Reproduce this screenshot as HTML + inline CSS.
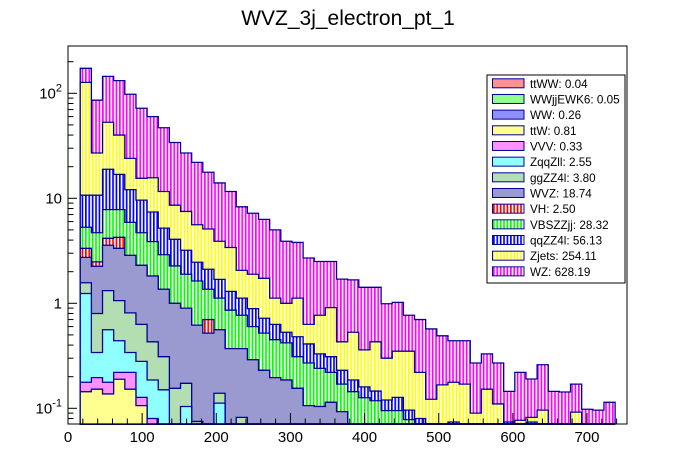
<!DOCTYPE html>
<html><head><meta charset="utf-8"><style>
html,body{margin:0;padding:0;background:#fff;}
svg{display:block;font-family:"Liberation Sans",Arial,sans-serif;}
</style></head><body>
<svg id="c" width="696" height="472" viewBox="0 0 696 472">
<defs>
<pattern id="pWZ" patternUnits="userSpaceOnUse" width="3.4" height="4"><rect width="3.4" height="4" fill="#fff"/><rect width="1.7" height="4" fill="#ff00ff"/></pattern>
<pattern id="pZj" patternUnits="userSpaceOnUse" width="3.4" height="4"><rect width="3.4" height="4" fill="#fff"/><rect width="1.7" height="4" fill="#ffff00"/></pattern>
<pattern id="pQQ" patternUnits="userSpaceOnUse" width="3.4" height="4"><rect width="3.4" height="4" fill="#fff"/><rect width="1.7" height="4" fill="#0000ff"/></pattern>
<pattern id="pVBS" patternUnits="userSpaceOnUse" width="3.4" height="4"><rect width="3.4" height="4" fill="#fff"/><rect width="1.7" height="4" fill="#00ff00"/></pattern>
<pattern id="pVH" patternUnits="userSpaceOnUse" width="3.4" height="4"><rect width="3.4" height="4" fill="#fff"/><rect width="1.7" height="4" fill="#ff0000"/></pattern>
</defs>
<text x="348" y="25" text-anchor="middle" font-size="21" fill="#000">WVZ_3j_electron_pt_1</text>
<g id="plot"></g>
<rect x="68" y="46" width="559" height="378" fill="none" stroke="#000" stroke-width="1"/>
<g id="axes"></g>
<g id="legend"></g>
</svg>
<script>
// Stack levels (cumulative bin contents), 48 bins of pt
const binLow = 16.5;
const binWidth = 15.03;
const stackWZ = [173,86,145,132,98,72,60,47,34,27,22,17.7,14,11.6,8.3,7.2,6.3,5.0,3.9,3.8,2.7,2.5,2.5,1.7,1.67,1.42,1.42,0.99,1.02,0.77,0.70,0.57,0.49,0.44,0.44,0.27,0.33,0.27,0.145,0.22,0.19,0.26,0.145,0.143,0.17,0.098,0.096,0.114];
const stackZjets = [127,27,53,40,24,15.5,15.7,11.6,8.6,7.5,5.6,5.1,3.9,3.4,2.06,1.89,1.73,1.12,1.0,1.12,0.63,0.77,0.91,0.43,0.53,0.36,0.43,0.30,0.35,0.35,0.22,0.122,0.167,0.177,0.17,0.09,0.152,0.11,0,0.077,0.082,0.096,0,0,0.092,0,0,0];
const stackQQZZ = [10.7,10.7,18.9,16.9,12.1,9.6,7.4,5.2,4.07,3.2,2.46,2.11,1.69,1.3,1.12,0.89,0.72,0.63,0.53,0.48,0.41,0.33,0.31,0.23,0.186,0.16,0.146,0.12,0.127,0.096,0.08,0,0,0.074,0,0,0,0,0.074,0,0.074,0,0,0,0,0,0,0];
const stackVBS = [5.3,4.7,7.8,7.8,5.9,4.7,3.87,2.9,2.27,1.89,1.63,1.36,1.12,0.86,0.77,0.6,0.52,0.45,0.42,0.31,0.27,0.24,0.22,0.17,0.144,0.126,0.118,0.095,0.095,0.078,0,0,0,0,0,0,0,0,0,0,0,0,0,0,0,0,0,0];
const stackVH = [3.34,2.48,4.16,4.25,2.86,2.30,1.82,1.36,1.0,0.9,0.62,0.70,0.56,0.37,0.37,0.29,0.23,0.196,0.186,0.155,0.106,0.104,0.114,0.093,0,0,0,0,0,0,0,0,0,0,0,0,0,0,0,0,0,0,0,0,0,0,0,0];
const stackWVZ = [2.74,2.25,3.57,3.34,2.86,2.30,1.82,1.36,1.0,0.9,0.62,0.52,0.56,0.37,0.37,0.29,0.23,0.196,0.186,0.155,0.106,0.104,0.114,0.093,0,0,0,0,0,0,0,0,0,0,0,0,0,0,0,0,0,0,0,0,0,0,0,0];
const stackGGZZ = [1.57,0.80,1.32,1.06,0.81,0.63,0.43,0.31,0.155,0.173,0.075,0,0.139,0,0.082,0,0,0,0,0,0,0,0,0,0,0,0,0,0,0,0,0,0,0,0,0,0,0,0,0,0,0,0,0,0,0,0,0];
const stackZqqZll = [1.24,0.34,0.56,0.44,0.34,0.28,0.186,0.15,0,0.104,0,0,0.112,0,0,0,0,0,0,0,0,0,0,0,0,0,0,0,0,0,0,0,0,0,0,0,0,0,0,0,0,0,0,0,0,0,0,0];
const stackVVV = [0.177,0.196,0.177,0.22,0.22,0.127,0.08,0,0,0,0,0,0,0,0,0,0,0,0,0,0,0,0,0,0,0,0,0,0,0,0,0,0,0,0,0,0,0,0,0,0,0,0,0,0,0,0,0];
const stackTTW = [0.144,0.152,0.137,0.189,0.152,0.106,0,0,0,0,0,0,0,0,0,0,0,0,0,0,0,0,0,0,0,0,0,0,0,0,0,0,0,0,0,0,0,0,0,0,0,0,0,0,0,0,0,0];
const xTickValues = [0,100,200,300,400,500,600,700];
const yTickValues = [0.1,1,10,100];
const legendLabels = ["ttWW: 0.04","WWjjEWK6: 0.05","WW: 0.26","ttW: 0.81","VVV: 0.33","ZqqZll: 2.55","ggZZ4l: 3.80","WVZ: 18.74","VH: 2.50","VBSZZjj: 28.32","qqZZ4l: 56.13","Zjets: 254.11","WZ: 628.19"];

const NS = "http://www.w3.org/2000/svg";
const X0 = 68, X1 = 627, Y0 = 46, Y1 = 424;
function xs(v){ return 68 + 0.7414*v; }
function ys(v){ if(v<=0) return Y1; return Math.min(Y1, Math.max(Y0, 303.3 - 105*Math.log10(v))); }
function mk(tag, attrs, parent){ const e=document.createElementNS(NS,tag); for(const k in attrs) e.setAttribute(k,attrs[k]); parent.appendChild(e); return e; }

const plot = document.getElementById('plot');
const layers = [
  {arr:stackWZ, fill:'url(#pWZ)', name:'wz-histogram'},
  {arr:stackZjets, fill:'url(#pZj)', name:'zjets-histogram'},
  {arr:stackQQZZ, fill:'url(#pQQ)', name:'qqzz4l-histogram'},
  {arr:stackVBS, fill:'url(#pVBS)', name:'vbszzjj-histogram'},
  {arr:stackVH, fill:'url(#pVH)', name:'vh-histogram'},
  {arr:stackWVZ, fill:'#9a9ad0', name:'wvz-histogram'},
  {arr:stackGGZZ, fill:'#b2deb2', name:'ggzz4l-histogram'},
  {arr:stackZqqZll, fill:'#90ffff', name:'zqqzll-histogram'},
  {arr:stackVVV, fill:'#ff90ff', name:'vvv-histogram'},
  {arr:stackTTW, fill:'#ffff90', name:'ttw-histogram'}
];
layers.forEach(L=>{
  let d = 'M'+xs(binLow).toFixed(2)+','+Y1;
  for(let i=0;i<L.arr.length;i++){
    const xa = xs(binLow+i*binWidth), xb = xs(binLow+(i+1)*binWidth), y = ys(L.arr[i]);
    d += ' L'+xa.toFixed(2)+','+y.toFixed(2)+' L'+xb.toFixed(2)+','+y.toFixed(2);
  }
  d += ' L'+xs(binLow+L.arr.length*binWidth).toFixed(2)+','+Y1+' Z';
  const p = mk('path',{d:d, fill:L.fill, stroke:'#000099','stroke-width':'1.3','stroke-linejoin':'miter'}, plot);
  
  
});

const axes = document.getElementById('axes');
for(let v=0; v<=750; v+=20){
  const major = v%100===0;
  mk('line',{x1:xs(v),x2:xs(v),y1:Y1,y2:Y1-(major?11:5.5),stroke:'#000','stroke-width':1}, axes);
}
xTickValues.forEach(v=>{
  const t = mk('text',{x:xs(v),y:442,'text-anchor':'middle','font-size':15}, axes);
  t.textContent = String(v);
  
  
});
[0.1,1,10,100].forEach(dec=>{
  for(let m=1;m<10;m++){
    const v = dec*m; const y = 303.3 - 105*Math.log10(v);
    if(y<Y0||y>Y1) continue;
    mk('line',{x1:X0,x2:X0+(m===1?9:5.5),y1:y,y2:y,stroke:'#000','stroke-width':1}, axes);
  }
});
[0.08,0.09].forEach(v=>{ const y=303.3-105*Math.log10(v); if(y<=Y1) mk('line',{x1:X0,x2:X0+5.5,y1:y,y2:y,stroke:'#000','stroke-width':1}, axes); });
yTickValues.forEach(v=>{
  const y = ys(v);
  const e = Math.round(Math.log10(v));
  const t = mk('text',{x:62,y:y+5,'text-anchor':'end','font-size':15}, axes);
  
  
  if(e===0){ t.textContent='1'; }
  else if(e===1){ t.textContent='10'; }
  else {
    const a = mk('tspan',{}, t); a.textContent='10';
    const b = mk('tspan',{dy:-7,'font-size':11}, t); b.textContent=String(e);
  }
});

const leg = document.getElementById('legend');
const lb = mk('rect',{x:487,y:75,width:138,height:208,fill:'#fff',stroke:'#000','stroke-width':1}, leg);


const legFills = ['#ff9090','#90ff90','#9090ff','#ffff90','#ff90ff','#90ffff','#b2deb2','#9a9ad0','url(#pVH)','url(#pVBS)','url(#pQQ)','url(#pZj)','url(#pWZ)'];
legendLabels.forEach((lab,i)=>{
  const y = 83.3 + i*15.67;
  const g = mk('g',{}, leg);
  
  
  mk('rect',{x:492.5,y:y-4.5,width:31.5,height:9,fill:legFills[i],stroke:'#000099','stroke-width':1}, g);
  const t = mk('text',{x:530,y:y+4.5,'font-size':11.7,fill:'#000'}, g);
  t.textContent = lab;
});
</script>
</body></html>
